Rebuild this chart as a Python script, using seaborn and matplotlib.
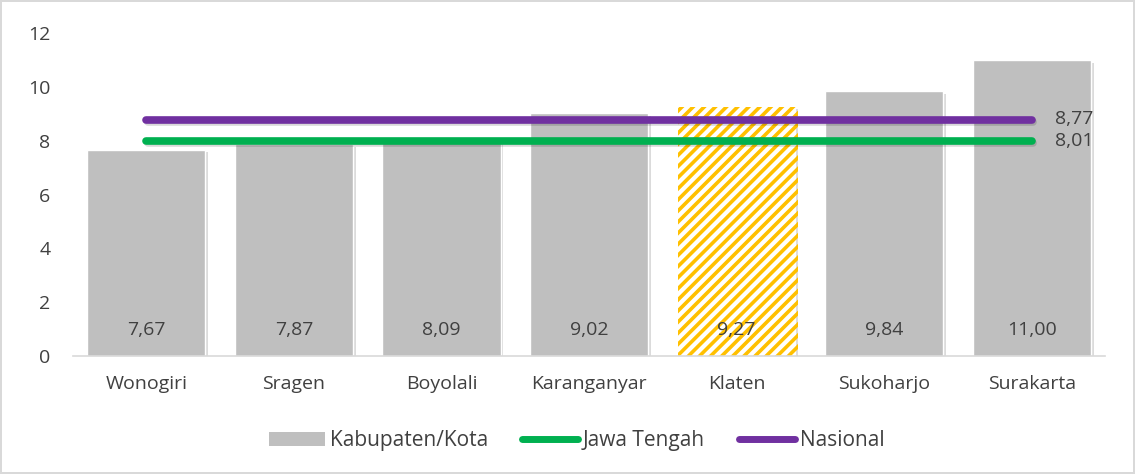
import matplotlib
matplotlib.use("Agg")
import matplotlib.pyplot as plt
import matplotlib.patheffects as pe
import seaborn as sns
from matplotlib.patches import Patch
from matplotlib.lines import Line2D

# data
kabupaten = ["Wonogiri", "Sragen", "Boyolali", "Karanganyar", "Klaten", "Sukoharjo", "Surakarta"]
nilai = [7.67, 7.87, 8.09, 9.02, 9.27, 9.84, 11.00]
jawa_tengah = 8.01
nasional = 8.77
highlight = "Klaten"

sns.set_style("white")
plt.rcParams["font.family"] = ["Open Sans", "DejaVu Sans"]
plt.rcParams["hatch.linewidth"] = 2.6
teks = "#404040"
bayangan = [pe.SimplePatchShadow(offset=(2, -2), alpha=0.18), pe.Normal()]

fig = plt.figure(figsize=(11.35, 4.74), dpi=100)
ax = fig.add_axes([0.064, 0.249, 0.91, 0.681])

sns.barplot(x=kabupaten, y=nilai, color="#BFBFBF", saturation=1, width=0.8, ax=ax)
for p in ax.patches:
    p.set_path_effects(bayangan)

# bar Klaten diarsir kuning
idx = kabupaten.index(highlight)
bar = ax.patches[idx]
bar.set_facecolor("white")
bar.set_edgecolor("#FFC000")
bar.set_hatch("///")
bar.set_linewidth(0)

# label nilai di dalam batang
for i, v in enumerate(nilai):
    ax.text(i, 0.96, f"{v:.2f}".replace(".", ","), ha="center", va="center",
            fontsize=14, color=teks)

# garis referensi
garis_bayangan = [pe.SimpleLineShadow(offset=(1, -1.5), alpha=0.15), pe.Normal()]
ax.plot([0, 6], [nasional, nasional], color="#7030A0", lw=5.5,
        solid_capstyle="round", path_effects=garis_bayangan)
ax.plot([0, 6], [jawa_tengah, jawa_tengah], color="#00B050", lw=5.5,
        solid_capstyle="round", path_effects=garis_bayangan)
ax.text(6.16, nasional + 0.05, f"{nasional:.2f}".replace(".", ","), va="center", fontsize=14, color=teks)
ax.text(6.16, jawa_tengah - 0.02, f"{jawa_tengah:.2f}".replace(".", ","), va="center", fontsize=14, color=teks)

ax.set_xlim(-0.5, 6.5)
ax.set_ylim(0, 12)
ax.set_yticks(range(0, 13, 2))
ax.tick_params(axis="both", labelsize=14, labelcolor=teks, length=0)
ax.tick_params(axis="x", pad=14)
ax.tick_params(axis="y", pad=16)
for s in ["top", "right", "left"]:
    ax.spines[s].set_visible(False)
ax.spines["bottom"].set_color("#D9D9D9")
ax.spines["bottom"].set_linewidth(1.2)

handles = [
    Patch(facecolor="#BFBFBF", edgecolor="none"),
    Line2D([], [], color="#00B050", lw=5, solid_capstyle="round"),
    Line2D([], [], color="#7030A0", lw=5, solid_capstyle="round"),
]
fig.legend(handles, ["Kabupaten/Kota", "Jawa Tengah", "Nasional"], loc="center",
           bbox_to_anchor=(0.508, 0.07), ncol=3, frameon=False, fontsize=15,
           labelcolor=teks, handlelength=2.7, handletextpad=0.25, columnspacing=1.6)

fig.patch.set_edgecolor("#D9D9D9")
fig.patch.set_linewidth(1.5)
fig.savefig("out.png", dpi=100, edgecolor=fig.get_edgecolor())
